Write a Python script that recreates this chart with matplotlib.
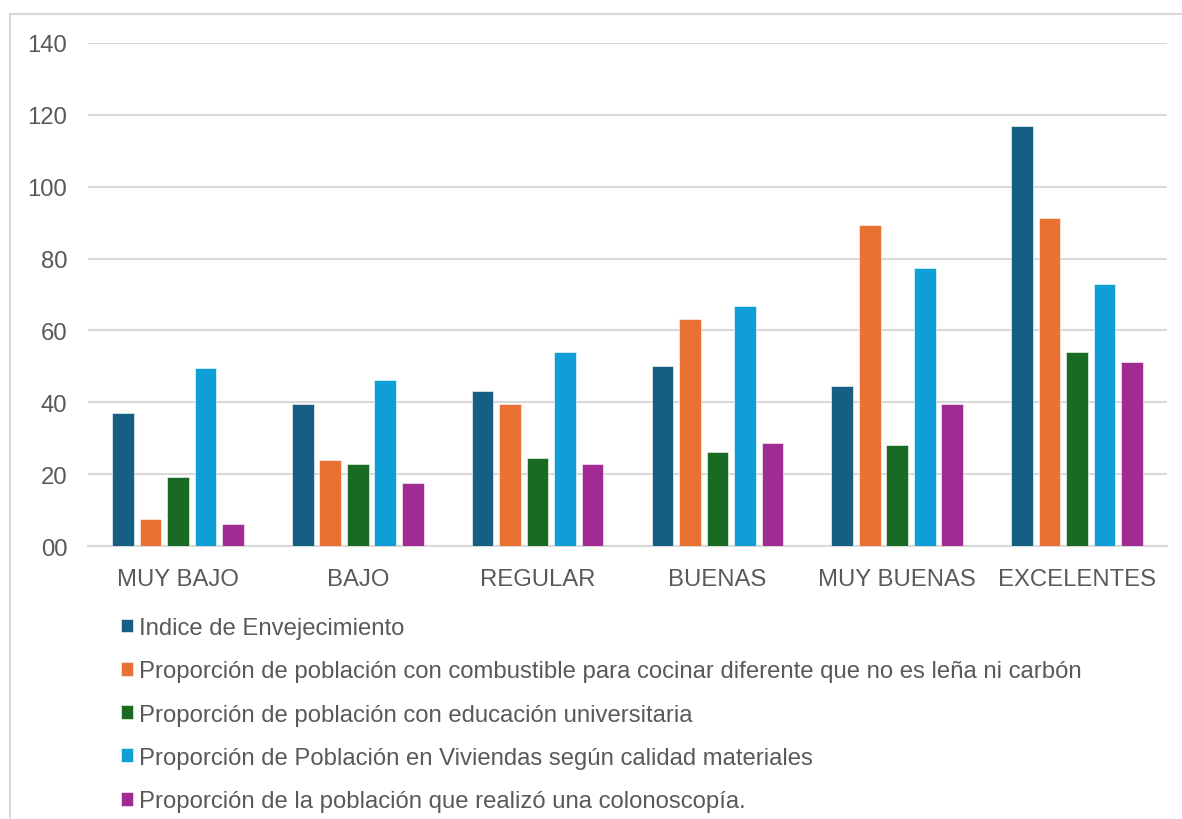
import numpy as np
import matplotlib
matplotlib.use("Agg")
import matplotlib.pyplot as plt
from matplotlib.lines import Line2D

plt.rcParams['font.family'] = ['Liberation Sans', 'DejaVu Sans']

categories = ["MUY BAJO", "BAJO", "REGULAR", "BUENAS", "MUY BUENAS", "EXCELENTES"]
series_names = [
    "Indice de Envejecimiento",
    "Proporción de población con combustible para cocinar diferente que no es leña ni carbón",
    "Proporción de población con educación universitaria",
    "Proporción de Población en Viviendas según calidad materiales",
    "Proporción de la población que realizó una colonoscopía.",
]
envejecimiento = [36.9, 39.4, 43.2, 50.1, 44.6, 116.8]
combustible = [7.6, 23.8, 39.6, 63.2, 89.3, 91.4]
universitaria = [19.2, 22.7, 24.5, 26.1, 28.0, 54.1]
viviendas = [49.5, 46.1, 53.9, 66.7, 77.5, 72.8]
colonoscopia = [6.0, 17.5, 22.7, 28.8, 39.6, 51.1]
yticks = [0, 20, 40, 60, 80, 100, 120, 140]
ytick_labels = ["00", "20", "40", "60", "80", "100", "120", "140"]

colors = ["#156082", "#E97132", "#196B24", "#0F9ED5", "#A02B93"]
txt = "#595959"
grid = "#D9D9D9"

values = [envejecimiento, combustible, universitaria, viviendas, colonoscopia]

fig = plt.figure(figsize=(11.82, 8.2), dpi=100)
ax = fig.add_axes([88/1182, 1-547/820, (1167-88)/1182, (547-44)/820])

x = np.arange(len(categories))
pitch = 0.153
width = 0.12
for i, vals in enumerate(values):
    ax.bar(x + (i-2)*pitch, vals, width, color=colors[i], edgecolor="white",
           linewidth=0.4, label=series_names[i], zorder=3)

ax.set_xlim(-0.5, len(categories)-0.5)
ax.set_ylim(0, 140)
ax.set_yticks(yticks)
ax.set_yticklabels(ytick_labels)
ax.set_xticks(x)
ax.set_xticklabels(categories)
ax.yaxis.grid(True, color=grid, linewidth=1.5, zorder=0)
ax.tick_params(axis='both', length=0, labelsize=17.2, colors=txt)
ax.tick_params(axis='y', pad=15)
ax.tick_params(axis='x', pad=16)
for s in ["top", "right", "left"]:
    ax.spines[s].set_visible(False)
ax.spines["bottom"].set_color(grid)
ax.spines["bottom"].set_linewidth(1.5)

leg = fig.legend(loc="upper left", bbox_to_anchor=(121/1182, 1-618/820),
                 frameon=False, fontsize=17.2, handlelength=0.52, handleheight=0.52,
                 handletextpad=0.25, labelspacing=0.89, borderaxespad=0, borderpad=0)
for t in leg.get_texts():
    t.set_color(txt)

# outer frame (top and left edges)
fig.add_artist(Line2D([10/1182, 10/1182, 1], [0, 1-15/820, 1-15/820],
                      transform=fig.transFigure, color=grid, linewidth=1.5))

fig.savefig("out.png", dpi=100)
